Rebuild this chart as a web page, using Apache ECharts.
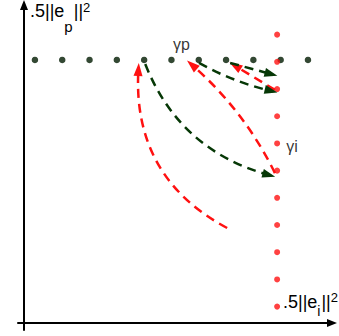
<!DOCTYPE html>
<html>
<head>
<meta charset="utf-8">
<script src="https://cdn.jsdelivr.net/npm/echarts@6/dist/echarts.min.js"></script>
<style>
  html, body { margin: 0; padding: 0; background: #fff; }
  #chart { width: 339px; height: 336px; }
</style>
</head>
<body>
<div id="chart"></div>
<script>
// units: one dot spacing, origin where the two axes cross
var greenX = [0.4, 1.4, 2.4, 3.4, 4.4, 5.4, 6.4, 7.4, 8.4, 9.4, 10.4];
var greenRowY = 9.67;
var redColX = 9.27;
var redY = [0.6, 1.6, 2.6, 3.6, 4.6, 5.6, 6.6, 7.6, 8.6, 9.6, 10.6];

// dashed arrows: start, end (arrow head), bend, colour
var arrowFrom = [[7.44, 3.49], [4.44, 9.52], [9.19, 5.51], [6.41, 9.56], [9.19, 8.57], [7.55, 9.56]];
var arrowTo   = [[4.19, 9.32], [8.97, 5.44], [6.15, 9.49], [9.05, 8.53], [7.73, 9.45], [9.05, 9.15]];
var arrowBend = [0.32, -0.25, -0.10, -0.07, 0, 0];
var arrowKind = ['red', 'green', 'red', 'green', 'red', 'green'];

var RED = '#ff1111';
var GREEN = '#063806';
var DOT_GREEN = '#001a00';
var FONT = "'Liberation Sans', Arial, sans-serif";

var chartDom = document.getElementById('chart');
var chart = echarts.init(chartDom, null, { renderer: 'svg' });

function arrowSeries(kind, color) {
  var data = [];
  arrowFrom.forEach(function (p, i) {
    if (arrowKind[i] !== kind) return;
    data.push({ coords: [p, arrowTo[i]], lineStyle: { curveness: arrowBend[i] } });
  });
  return {
    type: 'lines',
    coordinateSystem: 'cartesian2d',
    z: 3,
    symbol: ['none', 'triangle'],
    symbolSize: [1, [9, 13]],
    lineStyle: { color: color, width: 2.5, type: [9, 6], opacity: 1 },
    data: data
  };
}

var greenData = greenX.map(function (x, i) {
  var item = { value: [x, greenRowY] };
  if (i === 5) {
    item.label = { show: true, position: 'inside', offset: [10, -15], formatter: 'γp',
      color: '#000', fontSize: 16, fontFamily: FONT };
  }
  return item;
});

var redData = redY.map(function (y, i) {
  var item = { value: [redColX, y] };
  if (i === 6) {
    item.label = { show: true, position: 'inside', offset: [15, 3], formatter: 'γi',
      color: '#000', fontSize: 16, fontFamily: FONT };
  }
  return item;
});

// rich styles for ".5||e_x||^2", sub pushed down with top padding
function normRich(subDrop, subSize) {
  return {
    m: { fontSize: 18, height: 22, verticalAlign: 'top', fontFamily: FONT, color: '#000' },
    b: { fontSize: 18, height: 22, verticalAlign: 'top', padding: [0, 0, 0, 1], fontFamily: FONT, color: '#000' },
    s: { fontSize: subSize, height: 15, verticalAlign: 'top', padding: [subDrop, 0, 0, 0], fontFamily: FONT, color: '#000' },
    u: { fontSize: 13, height: 14, verticalAlign: 'top', fontFamily: FONT, color: '#000' }
  };
}

option = {
  animation: false,
  backgroundColor: '#fff',
  textStyle: { fontFamily: FONT },
  grid: { left: 18, right: 7, top: 5, bottom: 6, outerBoundsMode: 'none' },
  xAxis: {
    type: 'value',
    min: -0.22,
    max: 11.28,
    axisLine: { show: true, onZero: true, symbol: ['none', 'triangle'], symbolSize: [8, 10],
      lineStyle: { color: '#000', width: 2 } },
    axisTick: { show: false },
    axisLabel: { show: false },
    splitLine: { show: false },
    name: '{m|.5||e}{s|i}{b|||}{u|2}',
    nameLocation: 'end',
    nameGap: 6,
    nameTextStyle: {
      align: 'right',
      verticalAlign: 'bottom',
      padding: [0, 0, 4, 0],
      color: '#000',
      rich: normRich(13, 14)
    }
  },
  yAxis: {
    type: 'value',
    min: -0.26,
    max: 11.69,
    axisLine: { show: true, onZero: true, symbol: ['none', 'triangle'], symbolSize: [8, 10],
      lineStyle: { color: '#000', width: 2 } },
    axisTick: { show: false },
    axisLabel: { show: false },
    splitLine: { show: false },
    name: '{m|.5||e}{s|p}{b|||}{u|2}',
    nameLocation: 'end',
    nameGap: 5,
    nameTextStyle: {
      align: 'left',
      verticalAlign: 'top',
      padding: [0, 0, 0, 6],
      color: '#000',
      rich: normRich(19, 15)
    }
  },
  series: [
    {
      type: 'scatter',
      z: 2,
      symbolSize: 6.5,
      itemStyle: { color: DOT_GREEN },
      data: greenData
    },
    {
      type: 'scatter',
      z: 2,
      symbolSize: 6,
      itemStyle: { color: RED },
      data: redData
    },
    arrowSeries('red', RED),
    arrowSeries('green', GREEN)
  ]
};

chart.setOption(option);
</script>
</body>
</html>
